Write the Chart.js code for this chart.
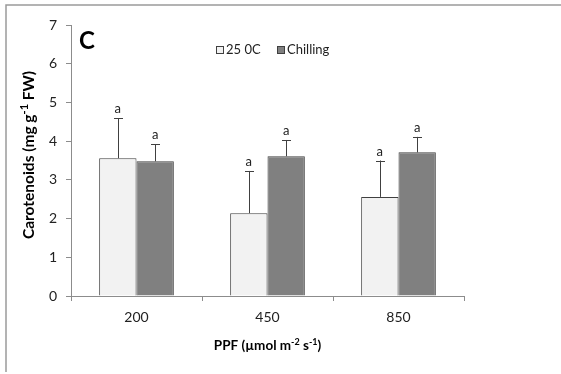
<!DOCTYPE html>
<html>
<head>
<meta charset="utf-8">
<script src="https://cdn.jsdelivr.net/npm/chart.js@4"></script>
<style>
  html, body { margin: 0; padding: 0; background: #fff; }
  #wrap { width: 561px; height: 374px; }
</style>
</head>
<body>
<div id="wrap"><canvas id="myChart" width="561" height="374"></canvas></div>
<script>
// data
const categories = ["200", "450", "850"];
const seriesNames = ["25 0C", "Chilling"];
const warmValues = [3.56, 2.14, 2.56];
const chillValues = [3.48, 3.61, 3.71];
const warmErrors = [1.03, 1.09, 0.94];
const chillErrors = [0.44, 0.42, 0.40];
const warmLetters = ["a", "a", "a"];
const chillLetters = ["a", "a", "a"];
const yMin = 0, yMax = 7, yStep = 1;

const FONT = "Lato, 'Open Sans', sans-serif";

// draws a line of text with superscript pieces, centred on (cx, cy)
function drawRich(ctx, parts, cx, cy, size) {
    const big = "bold " + size + "px " + FONT;
    const small = "bold " + Math.round(size * 0.68) + "px " + FONT;
    let total = 0;
    parts.forEach(p => {
        ctx.font = p.sup ? small : big;
        total += ctx.measureText(p.t).width;
    });
    let x = cx - total / 2;
    ctx.textAlign = "left";
    ctx.textBaseline = "middle";
    parts.forEach(p => {
        ctx.font = p.sup ? small : big;
        ctx.fillText(p.t, x, p.sup ? cy - size * 0.32 : cy);
        x += ctx.measureText(p.t).width;
    });
}

const extras = {
    id: "extras",
    afterDatasetsDraw(chart) {
        const ctx = chart.ctx;
        const y = chart.scales.y;
        ctx.save();
        chart.data.datasets.forEach((ds, i) => {
            const meta = chart.getDatasetMeta(i);
            meta.data.forEach((bar, j) => {
                const top = y.getPixelForValue(ds.data[j] + ds.errors[j]);
                ctx.strokeStyle = "#404040";
                ctx.lineWidth = 1;
                ctx.beginPath();
                ctx.moveTo(Math.round(bar.x) + 0.5, bar.y);
                ctx.lineTo(Math.round(bar.x) + 0.5, top);
                ctx.moveTo(Math.round(bar.x) - 4, Math.round(top) + 0.5);
                ctx.lineTo(Math.round(bar.x) + 5, Math.round(top) + 0.5);
                ctx.stroke();
                ctx.fillStyle = "#222";
                ctx.font = "13px " + FONT;
                ctx.textAlign = "center";
                ctx.textBaseline = "alphabetic";
                ctx.fillText(ds.letters[j], bar.x, top - 5);
            });
        });
        ctx.restore();
    },
    afterDraw(chart) {
        const ctx = chart.ctx;
        const area = chart.chartArea;
        ctx.save();
        // outer frame (only top and left show in the crop)
        ctx.strokeStyle = "#9a9a9a";
        ctx.lineWidth = 1.5;
        ctx.beginPath();
        ctx.moveTo(6, 372);
        ctx.lineTo(6, 5);
        ctx.lineTo(561, 5);
        ctx.stroke();

        // panel letter
        ctx.fillStyle = "#000";
        ctx.font = "bold 24px " + FONT;
        ctx.textAlign = "left";
        ctx.textBaseline = "alphabetic";
        ctx.fillText("C", 79, 49);

        // legend
        const legendX = [216, 277];
        const ly = 50;
        chart.data.datasets.forEach((ds, i) => {
            const lx = legendX[i];
            ctx.fillStyle = ds.backgroundColor;
            ctx.strokeStyle = "#404040";
            ctx.lineWidth = 1;
            ctx.fillRect(lx + 0.5, ly - 3.5, 7, 7);
            ctx.strokeRect(lx + 0.5, ly - 3.5, 7, 7);
            ctx.fillStyle = "#222";
            ctx.font = "13px " + FONT;
            ctx.textBaseline = "middle";
            ctx.fillText(ds.label, lx + 10, ly);
        });

        // axis titles
        ctx.fillStyle = "#000";
        drawRich(ctx, [{ t: "PPF (µmol m" }, { t: "-2", sup: true }, { t: " s" }, { t: "-1", sup: true }, { t: ")" }],
            (area.left + area.right) / 2, 346, 13.5);
        ctx.translate(29, 155);
        ctx.rotate(-Math.PI / 2);
        drawRich(ctx, [{ t: "Carotenoids (mg g" }, { t: "-1", sup: true }, { t: " FW)" }], 0, 0, 15.5);
        ctx.restore();
    }
};

document.addEventListener("DOMContentLoaded", function () {
    const data = {
        labels: categories,
        datasets: [{
            label: seriesNames[0],
            data: warmValues,
            errors: warmErrors,
            letters: warmLetters,
            backgroundColor: "#F2F2F2",
            borderColor: "#404040",
            borderWidth: 1
        }, {
            label: seriesNames[1],
            data: chillValues,
            errors: chillErrors,
            letters: chillLetters,
            backgroundColor: "#808080",
            borderColor: "#404040",
            borderWidth: 1
        }]
    };

    new Chart(document.getElementById("myChart"), {
        type: "bar",
        data: data,
        plugins: [extras],
        options: {
            responsive: false,
            animation: false,
            categoryPercentage: 0.57,
            barPercentage: 1.0,
            layout: { padding: { top: 25, right: 97, left: 0, bottom: 0 } },
            plugins: {
                legend: { display: false },
                tooltip: { enabled: false }
            },
            scales: {
                x: {
                    grid: { drawOnChartArea: false, offset: true, tickLength: 5, color: "#8c8c8c" },
                    border: { color: "#8c8c8c", width: 1 },
                    ticks: { color: "#222", font: { family: FONT, size: 14 }, padding: 8 },
                    afterFit(scale) { scale.height = 78; }
                },
                y: {
                    min: yMin,
                    max: yMax,
                    grid: { drawOnChartArea: false, tickLength: 5, color: "#8c8c8c" },
                    border: { color: "#8c8c8c", width: 1 },
                    ticks: { stepSize: yStep, color: "#222", font: { family: FONT, size: 14 }, padding: 9 },
                    afterFit(scale) { scale.width = 71; }
                }
            }
        }
    });
});
</script>
</body>
</html>
